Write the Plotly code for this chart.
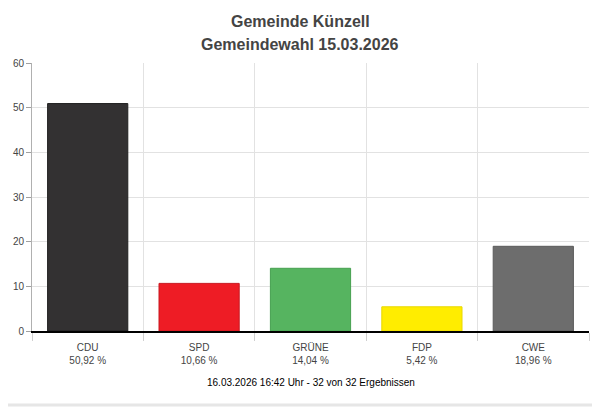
import plotly.graph_objects as go

# Ergebnis Gemeindewahl Künzell
parties = ['CDU', 'SPD', 'GRÜNE', 'FDP', 'CWE']
percents = [50.92, 10.66, 14.04, 5.42, 18.96]
colours = ['#333132', '#ee1c25', '#56b460', '#ffed00', '#6d6d6d']
borders = ['#202020', '#c81820', '#46a050', '#e8d800', '#5a5a5a']
title_lines = ['Gemeinde Künzell', 'Gemeindewahl 15.03.2026']
footer = '16.03.2026 16:42 Uhr - 32 von 32 Ergebnissen'

font = 'Arial, Liberation Sans, sans-serif'

# category label: party name and percent in German notation
labels = [f"{p}<br>{v:.2f} %".replace('.', ',') for p, v in zip(parties, percents)]

fig = go.Figure(go.Bar(x=labels,
                       y=percents,
                       marker=dict(color=colours,
                                   line=dict(color=borders, width=1)),
                       width=0.72,
                       hoverinfo='skip'))

# the page body adds 8px, so margins are trimmed by that amount
fig.update_layout(width=600, height=407,
                  margin=dict(l=24, r=19, t=55, b=84),
                  paper_bgcolor='white', plot_bgcolor='white',
                  showlegend=False,
                  font=dict(family=font, size=10, color='#444444'))

fig.update_xaxes(type='category',
                 tickson='boundaries',
                 ticks='outside', ticklen=8, tickcolor='#d0d0d0',
                 ticklabelstandoff=6,
                 showgrid=True, gridcolor='#e2e2e2', gridwidth=1,
                 showline=True, linecolor='#000000', linewidth=2,
                 tickfont=dict(size=10, color='#444444'),
                 automargin=False, fixedrange=True)

fig.update_yaxes(range=[0, 60], dtick=10,
                 ticks='outside', ticklen=5, tickcolor='#a0a0a0',
                 showgrid=True, gridcolor='#e2e2e2', gridwidth=1,
                 zeroline=False,
                 showline=True, linecolor='#b0b0b0', linewidth=1,
                 tickfont=dict(size=10, color='#444444'),
                 automargin=False, fixedrange=True)

# two title lines, placed separately to get the line spacing right
for txt, py in zip(title_lines, [22, 45]):
    fig.add_annotation(text=f"<b>{txt}</b>", xref='paper', yref='paper',
                       x=(300 - 32) / 557, y=(331 - py) / 268,
                       xanchor='center', yanchor='middle', showarrow=False,
                       font=dict(family=font, size=16, color='#444444'))

fig.add_annotation(text=footer, xref='paper', yref='paper',
                   x=0.5, y=-(382 - 331) / 268,
                   xanchor='center', yanchor='middle', showarrow=False,
                   font=dict(family=font, size=10, color='#000000'))

# light separator at the bottom edge
fig.add_shape(type='line', xref='paper', yref='paper',
              x0=-32 / 557, x1=1 + 11 / 557,
              y0=-(405 - 331) / 268, y1=-(405 - 331) / 268,
              line=dict(color='#e6e6e6', width=3))

fig.write_html("out.html")
